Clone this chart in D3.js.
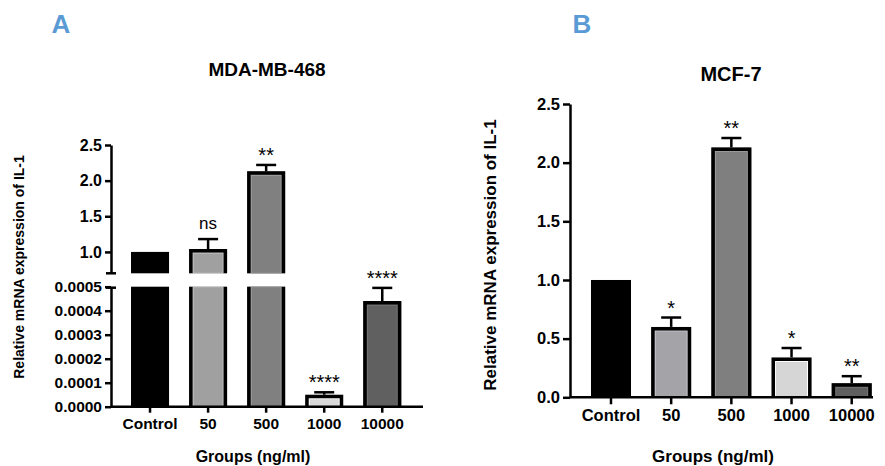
<!DOCTYPE html>
<html>
<head>
<meta charset="utf-8">
<script src="https://cdn.jsdelivr.net/npm/d3@7"></script>
<style>
  body { margin: 0; background: #fff; }
  svg text { font-family: "Liberation Sans", Arial, sans-serif; }
</style>
</head>
<body>
<svg id="chart" width="885" height="466"></svg>
<script>
const groups = ['Control', '50', '500', '1000', '10000']

// MDA-MB-468 (broken y axis)
const mdaMeans = [1.0, 1.04, 2.13, 0.00005, 0.00044]
const mdaErr = [0, 0.14, 0.09, 0.00001, 0.000055]
const mdaSig = ['', 'ns', '**', '****', '****']
const mdaUpperTicks = [1.0, 1.5, 2.0, 2.5]
const mdaLowerTicks = [0, 0.0001, 0.0002, 0.0003, 0.0004, 0.0005]
const mdaColors = ['#000000', '#a0a0a0', '#808080', '#d8d8d8', '#606060']

// MCF-7
const mcfMeans = [1.0, 0.60, 2.13, 0.34, 0.12]
const mcfErr = [0, 0.08, 0.08, 0.08, 0.06]
const mcfSig = ['', '*', '**', '*', '**']
const mcfTicks = [0, 0.5, 1.0, 1.5, 2.0, 2.5]
const mcfColors = ['#000000', '#a3a3a8', '#7f7f7f', '#d6d6d6', '#606060']

const svg = d3.select('#chart')
const bw = 3.5

// draws one bar piece; openTop leaves out the black top edge at an axis break
function barPiece(g, x, w, yTop, yBottom, color, openTop, isControl) {
    g.append('rect')
        .attr('x', x).attr('y', yTop)
        .attr('width', w).attr('height', yBottom - yTop)
        .attr('fill', color)
    if (isControl) return
    g.append('rect')
        .attr('x', x + bw + 0.5).attr('y', yTop + (openTop ? 0 : bw + 0.5))
        .attr('width', w - 2 * bw - 1)
        .attr('height', Math.max(0, yBottom - yTop - (openTop ? 0 : bw + 0.5)))
        .attr('fill', 'none')
        .attr('stroke', d3.color(color).brighter(0.6))
        .attr('stroke-width', 1)
    const l = x + bw / 2, r = x + w - bw / 2, t = yTop + (openTop ? 0 : bw / 2)
    const p = openTop
        ? `M${l},${yBottom}V${yTop}M${r},${yBottom}V${yTop}`
        : `M${l},${yBottom}V${t}H${r}V${yBottom}`
    g.append('path').attr('d', p).attr('fill', 'none')
        .attr('stroke', '#000').attr('stroke-width', bw)
}

function errorBar(g, cx, y0, y1) {
    g.append('line').attr('x1', cx).attr('x2', cx).attr('y1', y0).attr('y2', y1)
        .attr('stroke', '#000').attr('stroke-width', 2.5)
    g.append('line').attr('x1', cx - 10).attr('x2', cx + 10).attr('y1', y1).attr('y2', y1)
        .attr('stroke', '#000').attr('stroke-width', 2.5)
}

function sigLabel(g, cx, y, label) {
    const ns = label === 'ns'
    g.append('text').attr('x', cx).attr('y', y - (ns ? 10 : 3))
        .attr('text-anchor', 'middle').attr('font-size', ns ? 17 : 20)
        .text(label)
}

function styleAxis(sel, fs) {
    sel.selectAll('path, line').attr('stroke', '#000').attr('stroke-width', 2.5)
    sel.selectAll('text').attr('font-size', fs).attr('font-weight', 'bold').attr('fill', '#000')
}

// ---------- Panel A ----------
const gA = svg.append('g')
const axA = 111
const xA = d3.scaleBand().domain(groups).range([121, 411.3]).paddingInner(0.345).paddingOuter(0.1725)
const yUp = d3.scaleLinear().domain([0.7, 2.5]).range([273.3, 145])
const yLo = d3.scaleLinear().domain([0, 0.0005]).range([406.7, 286.7])

gA.append('text').attr('x', 61).attr('y', 33).attr('text-anchor', 'middle')
    .attr('font-size', 26).attr('font-weight', 'bold').attr('fill', '#5b9bd5').text('A')
gA.append('text').attr('x', 267).attr('y', 76).attr('text-anchor', 'middle')
    .attr('font-size', 19).attr('font-weight', 'bold').text('MDA-MB-468')

groups.forEach((grp, i) => {
    const x = xA(grp), w = xA.bandwidth(), cx = x + w / 2
    const v = mdaMeans[i], isCtl = i === 0
    if (v > 0.0005) {
        barPiece(gA, x, w, yLo(0.0005), yLo(0), mdaColors[i], true, isCtl)
        barPiece(gA, x, w, yUp(v), yUp(0.7), mdaColors[i], false, isCtl)
        if (mdaErr[i] > 0) errorBar(gA, cx, yUp(v), yUp(v + mdaErr[i]))
        if (mdaSig[i]) sigLabel(gA, cx, yUp(v + mdaErr[i]), mdaSig[i])
    } else {
        barPiece(gA, x, w, yLo(v), yLo(0), mdaColors[i], false, isCtl)
        if (mdaErr[i] > 0) errorBar(gA, cx, yLo(v), yLo(v + mdaErr[i]))
        if (mdaSig[i]) sigLabel(gA, cx, yLo(v + mdaErr[i]), mdaSig[i])
    }
})

gA.append('g').attr('transform', `translate(${axA},0)`)
    .call(d3.axisLeft(yUp).tickValues(mdaUpperTicks).tickFormat(d3.format('.1f')).tickSize(6).tickSizeOuter(0).tickPadding(3))
    .call(s => styleAxis(s, 16))
gA.append('g').attr('transform', `translate(${axA},0)`)
    .call(d3.axisLeft(yLo).tickValues(mdaLowerTicks).tickFormat(d3.format('.4f')).tickSize(6).tickSizeOuter(0).tickPadding(3))
    .call(s => styleAxis(s, 15.5))
// break caps
gA.append('line').attr('x1', axA - 5).attr('x2', axA + 5).attr('y1', yUp(0.7)).attr('y2', yUp(0.7))
    .attr('stroke', '#000').attr('stroke-width', 2.5)
gA.append('line').attr('x1', axA - 5).attr('x2', axA + 5).attr('y1', yLo(0.0005) + 1).attr('y2', yLo(0.0005) + 1)
    .attr('stroke', '#000').attr('stroke-width', 2.5)

gA.append('line').attr('x1', axA).attr('x2', 423).attr('y1', yLo(0)).attr('y2', yLo(0))
    .attr('stroke', '#000').attr('stroke-width', 2.5)
gA.append('g').attr('transform', `translate(0,${yLo(0)})`)
    .call(d3.axisBottom(xA).tickSize(6).tickSizeOuter(0).tickPadding(5))
    .call(s => s.select('.domain').remove())
    .call(s => styleAxis(s, 15.5))

gA.append('text').attr('transform', `translate(24,267) rotate(-90)`).attr('text-anchor', 'middle')
    .attr('font-size', 14).attr('font-weight', 'bold').text('Relative mRNA expression of IL-1')
gA.append('text').attr('x', 253).attr('y', 462).attr('text-anchor', 'middle')
    .attr('font-size', 16).attr('font-weight', 'bold').text('Groups (ng/ml)')

// ---------- Panel B ----------
const gB = svg.append('g')
const axB = 570
const xB = d3.scaleBand().domain(groups).range([580.9, 881.8]).paddingInner(0.335).paddingOuter(0.1675)
const yB = d3.scaleLinear().domain([0, 2.5]).range([397.3, 104])

gB.append('text').attr('x', 582).attr('y', 33).attr('text-anchor', 'middle')
    .attr('font-size', 26).attr('font-weight', 'bold').attr('fill', '#5b9bd5').text('B')
gB.append('text').attr('x', 731).attr('y', 81).attr('text-anchor', 'middle')
    .attr('font-size', 20).attr('font-weight', 'bold').text('MCF-7')

groups.forEach((grp, i) => {
    const x = xB(grp), w = xB.bandwidth(), cx = x + w / 2
    const v = mcfMeans[i]
    barPiece(gB, x, w, yB(v), yB(0), mcfColors[i], false, i === 0)
    if (mcfErr[i] > 0) errorBar(gB, cx, yB(v), yB(v + mcfErr[i]))
    if (mcfSig[i]) sigLabel(gB, cx, yB(v + mcfErr[i]), mcfSig[i])
})

gB.append('g').attr('transform', `translate(${axB},0)`)
    .call(d3.axisLeft(yB).tickValues(mcfTicks).tickFormat(d3.format('.1f')).tickSize(7).tickSizeOuter(0).tickPadding(3))
    .call(s => styleAxis(s, 16.5))
gB.append('line').attr('x1', axB).attr('x2', 873).attr('y1', yB(0)).attr('y2', yB(0))
    .attr('stroke', '#000').attr('stroke-width', 2.5)
gB.append('g').attr('transform', `translate(0,${yB(0)})`)
    .call(d3.axisBottom(xB).tickSize(7).tickSizeOuter(0).tickPadding(5))
    .call(s => s.select('.domain').remove())
    .call(s => styleAxis(s, 16.5))

gB.append('text').attr('transform', `translate(496,255) rotate(-90)`).attr('text-anchor', 'middle')
    .attr('font-size', 17).attr('font-weight', 'bold').text('Relative mRNA expression of IL-1')
gB.append('text').attr('x', 713).attr('y', 462).attr('text-anchor', 'middle')
    .attr('font-size', 17).attr('font-weight', 'bold').text('Groups (ng/ml)')
</script>
</body>
</html>
